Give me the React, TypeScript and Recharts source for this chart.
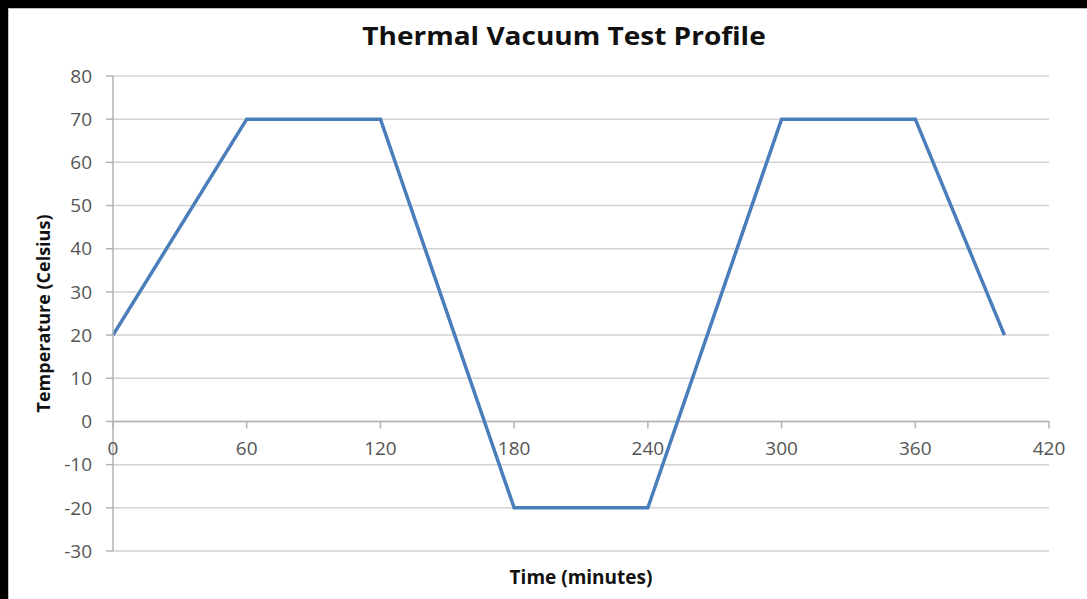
import React from "react";
import {
  LineChart,
  Line,
  XAxis,
  YAxis,
  CartesianGrid,
  ReferenceLine,
  ReferenceDot,
} from "recharts";

// profile points: minutes vs temperature
const times = [0, 60, 120, 180, 240, 300, 360, 400];
const temps = [20, 70, 70, -20, -20, 70, 70, 20];
const xTicks = [0, 60, 120, 180, 240, 300, 360, 420];
const yTicks = [-30, -20, -10, 0, 10, 20, 30, 40, 50, 60, 70, 80];

const data = times.map((t, i) => ({ time: t, temp: temps[i] }));

const AXIS = "#b3b3b3";
const GRID = "#d3d3d3";
const TICK_TEXT = "#555555";
const FONT = "'Open Sans', sans-serif";
const TICK_SIZE = 19;

// x-axis crosses at 0, so tick marks + labels are hung off the y=0 line
const XTickAtZero = (props: any) => {
  const { cx, cy, value } = props;
  return (
    <g>
      <line x1={cx} y1={cy} x2={cx} y2={cy + 7} stroke={AXIS} strokeWidth={1.5} />
      <text
        x={cx}
        y={cy + 27}
        textAnchor="middle"
        dominantBaseline="central"
        fill={TICK_TEXT}
        fontSize={TICK_SIZE}
        fontFamily={FONT}
      >
        {value}
      </text>
    </g>
  );
};

export default function App() {
  return (
    <div
      style={{
        position: "absolute",
        left: 0,
        top: 0,
        width: 1087,
        height: 599,
        background: "#000",
        fontFamily: FONT,
      }}
    >
      <div
        style={{
          position: "absolute",
          left: 8,
          top: 8,
          width: 1079,
          height: 591,
          background: "#fff",
          borderTop: "1px solid #c0c0c0",
          borderLeft: "1px solid #c0c0c0",
          boxSizing: "border-box",
        }}
      >
        <div
          style={{
            position: "absolute",
            left: 555,
            top: 11,
            transform: "translateX(-50%) scaleX(1.12)",
            fontSize: 25,
            fontWeight: 700,
            lineHeight: "30px",
            whiteSpace: "nowrap",
            color: "#111",
          }}
        >
          Thermal Vacuum Test Profile
        </div>
        <LineChart
          width={1079}
          height={591}
          data={data}
          margin={{ top: 68, right: 38, bottom: 8, left: 45 }}
          style={{ position: "absolute", left: -1, top: -1 }}
        >
          <CartesianGrid vertical={false} stroke={GRID} strokeWidth={1.5} />
          <XAxis
            dataKey="time"
            type="number"
            domain={[0, 420]}
            ticks={xTicks}
            tick={false}
            tickLine={false}
            axisLine={false}
            height={40}
            label={{
              content: ({ viewBox }: any) => (
                <text
                  x={viewBox.x + viewBox.width / 2}
                  y={viewBox.y + 26}
                  textAnchor="middle"
                  dominantBaseline="central"
                  fontWeight={700}
                  fontSize={19}
                  fill="#111"
                  fontFamily={FONT}
                >
                  Time (minutes)
                </text>
              ),
            }}
          />
          <YAxis
            type="number"
            domain={[-30, 80]}
            ticks={yTicks}
            interval={0}
            width={60}
            axisLine={{ stroke: AXIS, strokeWidth: 1.5 }}
            tickLine={{ stroke: AXIS, strokeWidth: 1.5 }}
            tickSize={7}
            tickMargin={14}
            tick={{ fill: TICK_TEXT, fontSize: TICK_SIZE, fontFamily: FONT }}
            label={{
              content: ({ viewBox }: any) => {
                const x = viewBox.x - 10;
                const y = viewBox.y + viewBox.height / 2;
                return (
                  <text
                    x={x}
                    y={y}
                    transform={`rotate(-90 ${x} ${y})`}
                    textAnchor="middle"
                    dominantBaseline="central"
                    fontWeight={700}
                    fontSize={18}
                    fill="#111"
                    fontFamily={FONT}
                  >
                    Temperature (Celsius)
                  </text>
                );
              },
            }}
          />
          <ReferenceLine y={0} stroke={AXIS} strokeWidth={1.5} />
          {xTicks.map((t) => (
            <ReferenceDot
              key={t}
              x={t}
              y={0}
              r={0}
              ifOverflow="visible"
              shape={(p: any) => <XTickAtZero {...p} value={t} />}
            />
          ))}
          <Line
            type="linear"
            dataKey="temp"
            stroke="#4a7ebb"
            strokeWidth={3.5}
            dot={false}
            activeDot={false}
            isAnimationActive={false}
          />
        </LineChart>
      </div>
    </div>
  );
}
